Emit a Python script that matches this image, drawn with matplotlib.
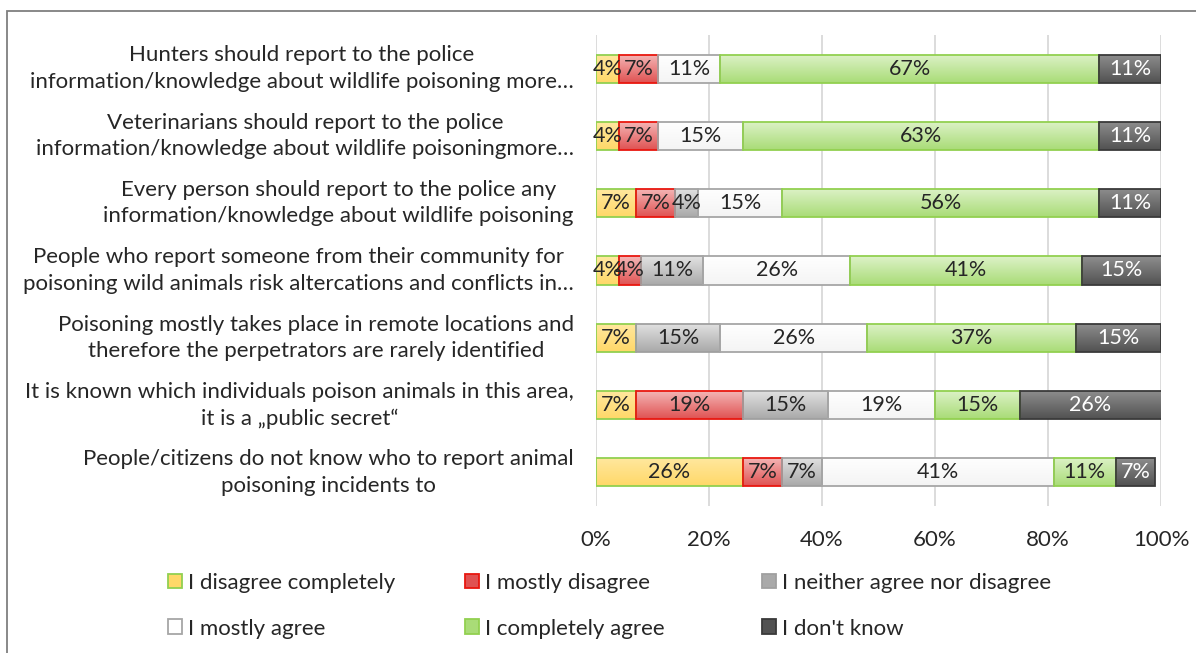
import matplotlib
matplotlib.use("Agg")
import matplotlib.pyplot as plt
import numpy as np
from matplotlib.patches import Patch, Rectangle
from matplotlib.colors import LinearSegmentedColormap

plt.rcParams['font.family'] = ['Lato', 'DejaVu Sans']

# Survey statements, top to bottom
statements = [
    "Hunters should report to the police\ninformation/knowledge about wildlife poisoning more…",
    "Veterinarians should report to the police\ninformation/knowledge about wildlife poisoningmore…",
    "Every person should report to the police any\ninformation/knowledge about wildlife poisoning",
    "People who report someone from their community for\npoisoning wild animals risk altercations and conflicts in…",
    "Poisoning mostly takes place in remote locations and\ntherefore the perpetrators are rarely identified",
    "It is known which individuals poison animals in this area,\nit is a „public secret“",
    "People/citizens do not know who to report animal\npoisoning incidents to",
]

series_names = [
    "I disagree completely",
    "I mostly disagree",
    "I neither agree nor disagree",
    "I mostly agree",
    "I completely agree",
    "I don't know",
]

# Share of answers (%) per statement
disagree_completely = [4, 4, 7, 4, 7, 7, 26]
mostly_disagree = [7, 7, 7, 4, 0, 19, 7]
neither_agree_nor_disagree = [0, 0, 4, 11, 15, 15, 7]
mostly_agree = [11, 15, 15, 26, 26, 19, 41]
completely_agree = [67, 63, 56, 41, 37, 15, 11]
dont_know = [11, 11, 11, 15, 15, 26, 7]

x_ticks = [0, 20, 40, 60, 80, 100]
x_tick_labels = ["0%", "20%", "40%", "60%", "80%", "100%"]

series_values = [disagree_completely, mostly_disagree, neither_agree_nor_disagree,
                 mostly_agree, completely_agree, dont_know]

# (top colour, bottom colour, edge colour, label colour)
styles = [
    ("#FFE8A0", "#FFD868", "#92D050", "#262626"),
    ("#F4B8B8", "#E05252", "#E8170F", "#262626"),
    ("#E2E2E2", "#A9A9A9", "#A0A0A0", "#262626"),
    ("#FFFFFF", "#F4F4F4", "#A6A6A6", "#262626"),
    ("#DDF2C8", "#A9DC77", "#92D050", "#262626"),
    ("#8E8E8E", "#525252", "#3A3A3A", "#FFFFFF"),
]

FS = 16

W, H = 1196, 653
fig = plt.figure(figsize=(W / 100, H / 100), dpi=100)

# outer frame
fig.patches.append(Rectangle((7 / W, -0.05), 1.2, 1 - 11 / H + 0.05,
                             transform=fig.transFigure, fill=False,
                             edgecolor="#7F7F7F", linewidth=1.3))

ax = fig.add_axes([596 / W, 1 - 506 / H, (1161 - 596) / W, 471 / H])

y = np.arange(len(statements))
lefts = np.zeros(len(statements))
grad = np.linspace(0, 1, 64).reshape(-1, 1)
handles = []
for name, vals, (c_top, c_bot, edge, tcol) in zip(series_names, series_values, styles):
    vals = np.array(vals, dtype=float)
    bars = ax.barh(y, vals, left=lefts, height=0.42, color="none",
                   edgecolor=edge, linewidth=1.3, zorder=3)
    cmap = LinearSegmentedColormap.from_list(name, [c_top, c_bot])
    for bar, v in zip(bars, vals):
        if v == 0:
            bar.set_visible(False)
            continue
        x0, y0 = bar.get_x(), bar.get_y()
        im = ax.imshow(grad, cmap=cmap, origin="lower", aspect="auto",
                       extent=[x0, x0 + bar.get_width(), y0, y0 + bar.get_height()],
                       zorder=2, interpolation="bilinear")
        im.set_clip_path(bar.get_path(), bar.get_transform())
    ax.bar_label(bars, labels=[f"{int(v)}%" if v else "" for v in vals],
                 label_type="center", color=tcol, fontsize=15.5, zorder=4)
    lefts += vals
    handles.append(Patch(facecolor=c_bot if name != "I mostly agree" else "#FFFFFF",
                         edgecolor=edge, linewidth=1.3, label=name))

ax.set_xlim(0, 100)
ax.set_ylim(len(statements) - 0.5, -0.5)
ax.set_xticks(x_ticks)
ax.set_xticklabels(x_tick_labels, fontsize=FS, color="#262626")
ax.set_yticks(y)
ax.set_yticklabels(statements, fontsize=FS, color="#262626", va="center",
                   multialignment="center", linespacing=1.4)
ax.tick_params(axis="both", length=0)
ax.tick_params(axis="y", pad=16)
ax.tick_params(axis="x", pad=17)
for s in ax.spines.values():
    s.set_visible(False)
ax.set_axisbelow(True)
ax.grid(axis="x", color="#D9D9D9", linewidth=1.3, zorder=0)

# legend in three columns with fixed column positions
col_x = [168 / W, 465 / W, 762 / W]
for i, cx in enumerate(col_x):
    fig.legend(handles=[handles[i], handles[i + 3]], loc="upper left",
               bbox_to_anchor=(cx, 1 - 573 / H), frameon=False,
               fontsize=FS, handlelength=0.63, handleheight=0.63,
               handletextpad=0.27, labelspacing=1.15, borderpad=0,
               borderaxespad=0, labelcolor="#262626")

fig.savefig("out.png", dpi=100)
